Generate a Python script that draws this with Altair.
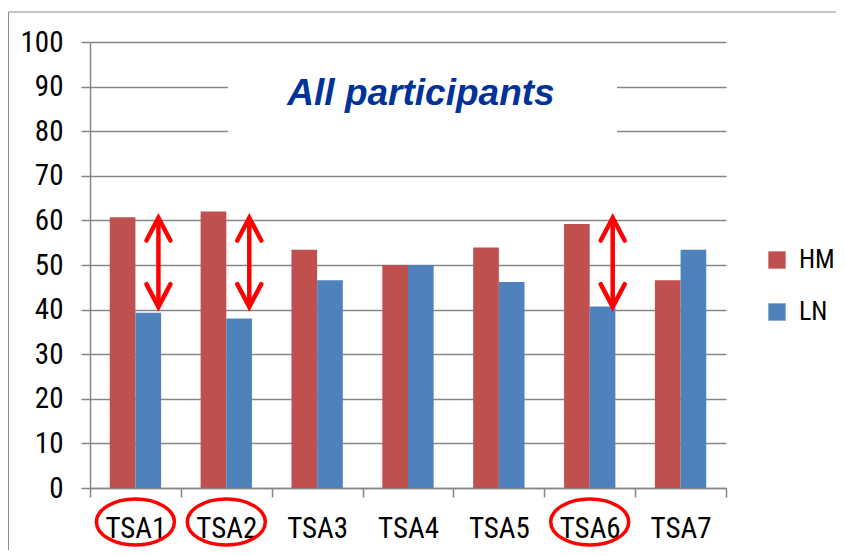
import altair as alt
import pandas as pd

categories = ["TSA1", "TSA2", "TSA3", "TSA4", "TSA5", "TSA6", "TSA7"]
hm_values = [60.7, 62.0, 53.4, 50.0, 53.9, 59.2, 46.6]
ln_values = [39.3, 38.0, 46.6, 50.0, 46.2, 40.7, 53.4]
series_names = ["HM", "LN"]
series_colors = ["#C0504D", "#4F81BD"]
highlighted = ["TSA1", "TSA2", "TSA6"]
arrow_top = [60.6, 60.6, 60.6]
arrow_bottom = [40.6, 40.6, 40.6]
title_text = ["All participants"]
y_ticks = [0, 10, 20, 30, 40, 50, 60, 70, 80, 90, 100]

LABEL_FONT = "Liberation Sans Narrow, Roboto Condensed, Lato, sans-serif"
GRID = "#868686"
RED = "#FF0000"

bars_df = pd.DataFrame({
    "cat": categories * 2,
    "series": [series_names[0]] * len(categories) + [series_names[1]] * len(categories),
    "value": hm_values + ln_values,
})
arrows_df = pd.DataFrame({"cat": highlighted, "top": arrow_top, "bottom": arrow_bottom})
hl_df = pd.DataFrame({"cat": highlighted})
title_df = pd.DataFrame({"t": title_text})
one = pd.DataFrame({"k": [0]})

x_scale = alt.Scale(domain=categories, paddingInner=0, paddingOuter=0)

bars = alt.Chart(bars_df).mark_bar().encode(
    x=alt.X("cat:N", sort=categories, scale=x_scale,
            axis=alt.Axis(title=None, labelAngle=0, tickBand="extent", domainColor=GRID,
                          domainWidth=1.5, tickColor=GRID, tickWidth=1.5, tickSize=9,
                          labelFont=LABEL_FONT, labelFontSize=29, labelColor="black",
                          labelPadding=17, grid=False)),
    xOffset=alt.XOffset("series:N", sort=series_names,
                        scale=alt.Scale(domain=series_names, paddingInner=0, paddingOuter=0.77)),
    y=alt.Y("value:Q", scale=alt.Scale(domain=[0, 100], nice=False),
            axis=alt.Axis(title=None, values=y_ticks, grid=True, gridColor=GRID, gridWidth=1.5,
                          domainColor=GRID, domainWidth=1.5, tickColor=GRID, tickWidth=1.5,
                          tickSize=9, labelFont=LABEL_FONT, labelFontSize=29, labelColor="black",
                          labelPadding=18)),
    color=alt.Color("series:N", scale=alt.Scale(domain=series_names, range=series_colors),
                    legend=alt.Legend(title=None, orient="none", legendX=674, legendY=205,
                                      symbolType="square", symbolSize=300, symbolStrokeWidth=0,
                                      labelFont=LABEL_FONT, labelFontSize=26, labelColor="black",
                                      rowPadding=26, labelOffset=9, padding=0)),
)

title_box = alt.Chart(one).mark_rect(color="white").encode(
    x=alt.value(138), x2=alt.value(527), y=alt.value(20), y2=alt.value(105)
)
title = alt.Chart(title_df).mark_text(
    font="Liberation Sans", fontSize=37, fontStyle="italic", fontWeight="bold",
    color="#003399", align="center", baseline="alphabetic"
).encode(x=alt.value(331), y=alt.value(63), text="t:N")

x_plain = alt.X("cat:N", sort=categories, title=None)

shaft = alt.Chart(arrows_df).mark_rule(color=RED, strokeWidth=4.5, xOffset=23).encode(
    x=x_plain,
    y=alt.Y("top:Q", title=None),
    y2="bottom:Q",
)
head_up = alt.Chart(arrows_df).mark_point(
    shape="M -1 1.9 L 0 0 L 1 1.9", size=576, filled=False, strokeWidth=4.5,
    color=RED, opacity=1, xOffset=23, strokeCap="round", strokeJoin="miter"
).encode(
    x=x_plain,
    y=alt.Y("top:Q", title=None),
)
head_down = alt.Chart(arrows_df).mark_point(
    shape="M -1 -1.9 L 0 0 L 1 -1.9", size=576, filled=False, strokeWidth=4.5,
    color=RED, opacity=1, xOffset=23, strokeCap="round", strokeJoin="miter"
).encode(
    x=x_plain,
    y=alt.Y("bottom:Q", title=None),
)
ellipses = alt.Chart(hl_df).mark_point(
    shape="M -1 0 A 1 0.59 0 1 1 1 0 A 1 0.59 0 1 1 -1 0 Z", size=6084, filled=False,
    strokeWidth=3.5, color=RED, opacity=1, clip=False
).encode(
    x=x_plain,
    y=alt.value(480),
)

border_top = alt.Chart(one).mark_rule(color="#8c8c8c", strokeWidth=1).encode(
    x=alt.value(-81.5), x2=alt.value(900), y=alt.value(-30)
)
border_left = alt.Chart(one).mark_rule(color="#8c8c8c", strokeWidth=1).encode(
    x=alt.value(-81.5), y=alt.value(-30), y2=alt.value(600)
)

chart = alt.layer(
    bars, title_box, title, shaft, head_up, head_down, ellipses, border_top, border_left
).properties(
    width=636, height=446,
    padding={"left": 82, "top": 34, "right": 110, "bottom": 62},
    autosize=alt.AutoSizeParams(type="none"),
).configure_view(stroke=None)

chart.save("out.html", embed_options={"renderer": "svg", "actions": False})
